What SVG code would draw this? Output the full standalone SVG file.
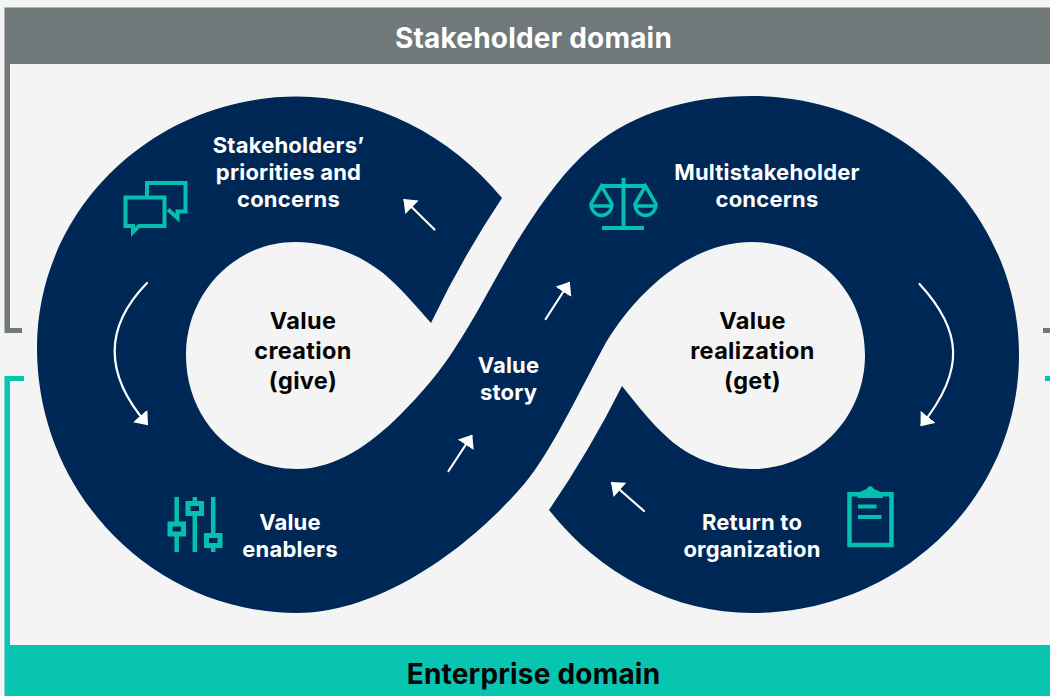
<svg xmlns="http://www.w3.org/2000/svg" width="1050" height="696" viewBox="0 0 1050 696">
<style>
text{font-family:Inter,"Noto Sans","Liberation Sans",sans-serif;text-anchor:middle}
.h{font-size:28px;font-weight:700;letter-spacing:.2px}
.l{font-size:22px;font-weight:700;fill:#fff;letter-spacing:.2px}
.c{font-size:23.500px;font-weight:700;fill:#050505;letter-spacing:.35px}
.i{fill:none;stroke:#06bfae;stroke-width:4}
.a{fill:none;stroke:#fff;stroke-width:2.200;stroke-linecap:round}
.a2{marker-end:url(#head)}
</style>
<defs>
<marker id="head" markerUnits="userSpaceOnUse" markerWidth="12" markerHeight="19" viewBox="0 0 12 19" refX="10.5" refY="9.5" orient="auto"><path d="M0,0L12,9.5L0,19Z" fill="#fff"/></marker>
</defs>
<rect width="1050" height="696" fill="#f4f4f4"/>
<g id="stakeholder-domain">
<path d="M4.5,7.500H1050V64H10V328H22V333H4.500Z" fill="#717879"/>
<rect x="1043" y="328" width="7" height="5" fill="#717879"/>
<text class="h" x="533.500" y="47.500" fill="#fff">Stakeholder domain</text>
</g>
<g id="enterprise-domain">
<path d="M4.5,376H24V381H10V645H1050V696H4.500Z" fill="#08c5b2"/>
<rect x="1045" y="376" width="5" height="5" fill="#08c5b2"/>
<text class="h" x="533.500" y="683.500" fill="#050505">Enterprise domain</text>
</g>
<g id="infinity-ribbon">
<path fill="#002856" d="M502,198C450,135 375,96.500 297,96.500C154,96.500 37,209 37,348C37,495 155,613 297,613C380,613 470,548 525,483C550,453 575,400 603,348C625,308 680,242 752,242C815,242 865,290 865,355C865,418 815,469 752,469C718,469 690,458 668,438C650,422 640,408 622,386Q590,450 549,510C600,575 675,613 752,613C900,613 1019,497 1019,355C1019,213 900,96 752,96C690,96 635,112 592,147C565,170 545,198 523,232C500,268 480,310 455,348C440,372 420,395 400,415C370,445 335,469 297,469C235,469 186,420 186,355C186,293 235,242 295,242C330,242 360,255 383,273C400,287 415,305 431,323Q462,258 502,198Z"/>
</g>
<g id="connectors">
<path class="a a2" d="M434.500,229.500L404.500,200"/>
<path class="a a2" d="M545.700,319L569,283"/>
<path class="a a2" d="M448.500,471L471.500,436"/>
<path class="a a2" d="M644,511L612,483"/>
<path class="a a2" d="M147,283C106,325 102,372 147,424"/>
<path class="a a2" d="M919.500,284C962,330 966,370 921.500,425"/>
</g>
<g id="stakeholders-priorities">
<path class="i" d="M147,197V183H185.500V211.500H177.500V218L168,209.500"/>
<path class="i" d="M125.500,197.500H164.500V226H139L133,232V226H125.500Z"/>
<text class="l"><tspan x="288.500" y="152.500">Stakeholders’</tspan><tspan x="288.500" y="179.500">priorities and</tspan><tspan x="288.500" y="206.500">concerns</tspan></text>
</g>
<g id="multistakeholder-concerns">
<path class="i" d="M623.500,178V228M602,228H644M601,186H646"/>
<path class="i" style="stroke-width:3.500" d="M601.500,186L591,204A10.500,11.500 0 0 0 612,204ZM591,206H612M645.500,186L635,204A10.500,11.500 0 0 0 656,204ZM635,206H656"/>
<text class="l"><tspan x="767" y="179.500">Multistakeholder</tspan><tspan x="767" y="206.500">concerns</tspan></text>
</g>
<g id="value-creation">
<text class="c"><tspan x="303" y="329">Value</tspan><tspan x="303" y="359">creation</tspan><tspan x="303" y="389">(give)</tspan></text>
</g>
<g id="value-realization">
<text class="c"><tspan x="752.500" y="329">Value</tspan><tspan x="752.500" y="359">realization</tspan><tspan x="752.500" y="389">(get)</tspan></text>
</g>
<g id="value-story">
<text class="l"><tspan x="508.500" y="373">Value</tspan><tspan x="508.500" y="400">story</tspan></text>
</g>
<g id="value-enablers">
<path class="i" style="stroke-width:4.500" d="M176.700,497V552M194.800,497V552M213.200,497V552"/>
<g style="fill:#002856;stroke:#06bfae;stroke-width:5">
<rect x="170" y="524" width="13.500" height="10"/>
<rect x="188" y="503.500" width="13.500" height="10"/>
<rect x="206.500" y="535.500" width="13.500" height="10"/>
</g>
<text class="l"><tspan x="290" y="529.500">Value</tspan><tspan x="290" y="556.500">enablers</tspan></text>
</g>
<g id="return-to-organization">
<path class="i" style="stroke-width:4.500" d="M849.500,494.200H891.500V545H849.500Z"/>
<path d="M857.500,498V493L866.500,489Q870.200,483 874,489L883,493V498Z" fill="#06bfae"/>
<path d="M858,506.500H876.500M858,517H881.500" class="i"/>
<text class="l"><tspan x="752" y="529.500">Return to</tspan><tspan x="752" y="556.500">organization</tspan></text>
</g>
</svg>
